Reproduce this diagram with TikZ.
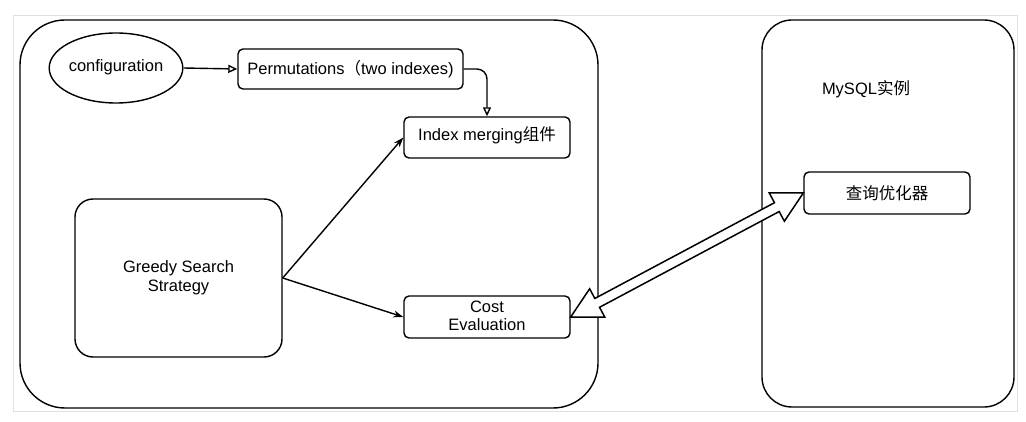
\documentclass[tikz,border=0pt]{standalone}
\usepackage{fontspec}
\setmainfont{Liberation Sans}
\newfontfamily\cjk{Noto Sans CJK SC}
\usetikzlibrary{arrows.meta,calc,shapes.geometric}
\begin{document}
\begin{tikzpicture}[x=1pt,y=-1pt,
  line width=1.4pt,
  every node/.style={font=\fontsize{16.5}{20}\selectfont},
  box/.style={draw,rounded corners=5pt,inner sep=0pt,align=center},
  conn/.style={-{Triangle[open,length=9pt,width=8pt]}},
  sarrow/.style={-{Stealth[length=10pt,width=7pt]}},
  fat/.style={draw,line width=1.5pt,fill=white,line join=miter}
]
\useasboundingbox (0,0) rectangle (1026,422);
\draw[black!12,line width=0.8pt] (13,15) rectangle (1017,411);
% containers
\draw[rounded corners=45pt] (20,20) rectangle (598,408);
\draw[rounded corners=30pt] (762,20) rectangle (1014,407);
\node (mysqllabel) at (866,89) {MySQL{\cjk 实例}};
% nodes
\node[draw,ellipse,minimum width=132pt,minimum height=70pt,inner sep=0pt] (config) at (116,68) {\raisebox{5pt}{configuration}};
\node[box,minimum width=225pt,minimum height=40pt] (perm) at (350.5,69) {Permutations{\cjk （}two indexes)};
\node[box,minimum width=166pt,minimum height=41pt] (index) at (487,137.5) {\raisebox{7pt}{Index merging{\cjk 组件}}};
\node[box,rounded corners=18pt,minimum width=207pt,minimum height=158pt] (greedy) at (178.5,278) {\raisebox{2pt}{\begin{tabular}{@{}c@{}}Greedy Search\\[-1pt]Strategy\end{tabular}}};
\node[box,minimum width=166pt,minimum height=42pt] (cost) at (487,317) {\begin{tabular}{@{}c@{}}Cost\\[-2pt]Evaluation\end{tabular}};
\node[box,minimum width=166pt,minimum height=42pt] (opt) at (887,193) {{\cjk 查询优化器}};
% connectors
\draw[conn] (config.east) -- (perm.west);
\draw[conn,rounded corners=10pt] (perm.east) -| (index.north);
\draw[sarrow] (greedy.east) -- (index.west);
\draw[sarrow] (greedy.east) -- (cost.west);
% fat double arrow
\coordinate (A) at (cost.east);
\coordinate (B) at (opt.west);
\coordinate (a1) at ($(A)!30pt!(B)$);
\coordinate (b1) at ($(B)!30pt!(A)$);
\draw[fat] (A)
  -- ($(a1)!16pt!90:(B)$) -- ($(a1)!5pt!90:(B)$)
  -- ($(b1)!5pt!-90:(A)$) -- ($(b1)!16pt!-90:(A)$)
  -- (B)
  -- ($(b1)!16pt!90:(A)$) -- ($(b1)!5pt!90:(A)$)
  -- ($(a1)!5pt!-90:(B)$) -- ($(a1)!16pt!-90:(B)$)
  -- cycle;
\end{tikzpicture}
\end{document}
